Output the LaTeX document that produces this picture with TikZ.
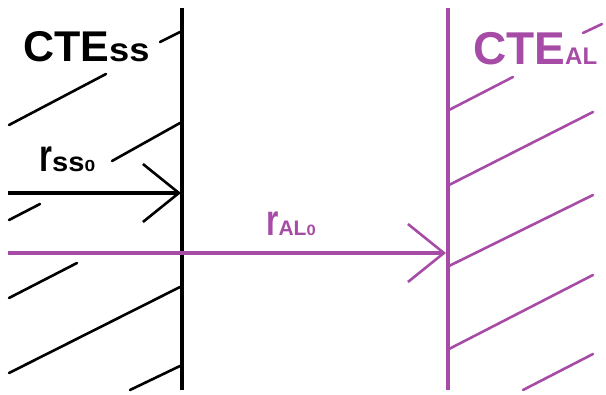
\documentclass[tikz,border=0pt]{standalone}
\usepackage{fontspec}
\setmainfont{Liberation Sans}
\usetikzlibrary{arrows.meta}
\definecolor{alpurple}{RGB}{166,76,166}
\tikzset{
  x=1pt,y=-1pt,
  wall/.style={line width=4pt},
  hatch/.style={line width=2.6pt,line cap=round},
  label/.style={inner sep=0pt,anchor=base west,font=\bfseries},
  arrowline/.style={line width=3.2pt,-{Straight Barb[length=36pt,width=58pt,line width=2.6pt]}},
}
\begin{document}
\begin{tikzpicture}
\useasboundingbox (0,0) rectangle (606,395);
% walls
\coordinate (sstop) at (182,8);
\coordinate (ssbot) at (182,390);
\coordinate (altop) at (448,8);
\coordinate (albot) at (448,390);
\draw[wall] (sstop) -- (ssbot);
\draw[wall,alpurple,line width=3.6pt] (altop) -- (albot);
% black hatching
\foreach \a/\b in {{(160,42)}/{(180,32)},{(9,125)}/{(106,74)},{(112,161)}/{(180,123)},{(9,220)}/{(40,204)},{(9,298)}/{(77,263)},{(9,373)}/{(180,287)},{(130,390)}/{(180,366)}}
  \draw[hatch] \a -- \b;
% purple hatching
\foreach \a/\b in {{(583,33)}/{(602,24)},{(449,110)}/{(513,77)},{(449,185)}/{(593,112)},{(449,266)}/{(593,195)},{(449,349)}/{(593,275)},{(523,390)}/{(593,354)}}
  \draw[hatch,alpurple] \a -- \b;
% arrows
\coordinate (ssstart) at (8,193);
\coordinate (ssend) at (181,193);
\coordinate (alstart) at (8,253);
\coordinate (alend) at (446,253);
\draw[arrowline] (ssstart) -- (ssend);
\draw[arrowline,alpurple,line width=4pt] (alstart) -- (alend);
% labels
\node[label] (ctess) at (23,62) {{\fontsize{43}{43}\selectfont CTE}{\fontsize{33}{33}\selectfont\scalebox{1.1}[1]{ss}}};
\node[label,text=alpurple] (cteal) at (473,65) {{\fontsize{46}{46}\selectfont CTE}{\fontsize{24}{24}\selectfont AL}};
\node[label] (rss) at (39,172) {{\fontsize{46}{46}\selectfont\scalebox{0.72}[1]{r}}{\fontsize{27}{27}\selectfont\scalebox{1.08}[1]{ss}}{\fontsize{16}{16}\selectfont\scalebox{1.2}[1]{0}}};
\node[label,text=alpurple] (ral) at (266,236) {{\fontsize{44}{44}\selectfont\scalebox{0.72}[1]{r}}{\fontsize{21}{21}\selectfont AL}{\fontsize{15}{15}\selectfont\scalebox{1.1}[1]{0}}};
\end{tikzpicture}
\end{document}
